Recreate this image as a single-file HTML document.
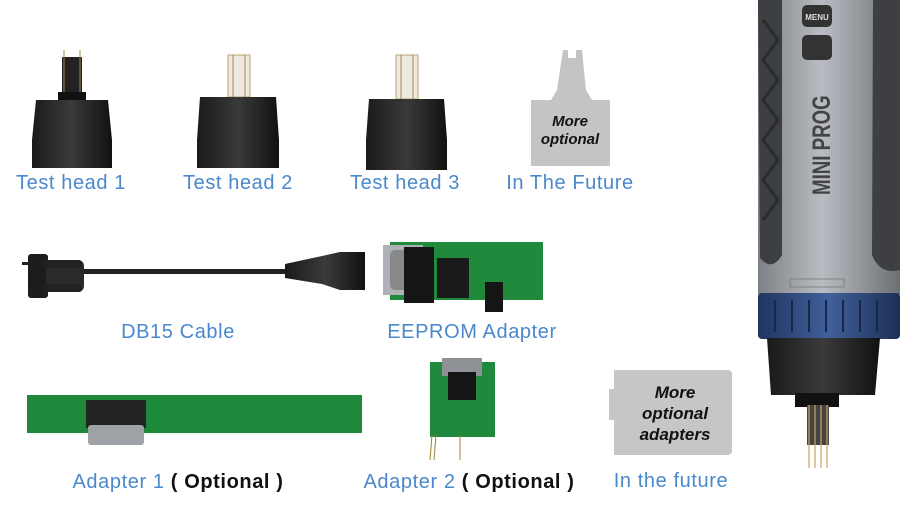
<!DOCTYPE html>
<html><head><meta charset="utf-8"><style>
html,body{margin:0;padding:0;background:#fff;width:900px;height:510px;overflow:hidden}
.l{position:absolute;font-family:"Liberation Sans",sans-serif;font-size:20px;letter-spacing:0.6px;color:#4a88cc;white-space:nowrap;transform:translateX(-50%)}
.k{color:#111;font-weight:bold}
svg{position:absolute;left:0;top:0}
</style></head><body>
<svg width="900" height="510" viewBox="0 0 900 510">
<defs>
<linearGradient id="bk" x1="0" x2="1"><stop offset="0" stop-color="#1a1a1a"/><stop offset=".5" stop-color="#3a3a3a"/><stop offset="1" stop-color="#111"/></linearGradient>
<linearGradient id="gr" x1="0" x2="1"><stop offset="0" stop-color="#7d8186"/><stop offset=".45" stop-color="#b9bdc2"/><stop offset="1" stop-color="#6c7075"/></linearGradient>
<linearGradient id="bl" x1="0" x2="1"><stop offset="0" stop-color="#1f3560"/><stop offset=".5" stop-color="#41609a"/><stop offset="1" stop-color="#1c2f55"/></linearGradient>
</defs>
<!-- test head 1 -->
<rect x="62" y="57" width="20" height="42" fill="#222"/>
<line x1="64" y1="50" x2="64" y2="99" stroke="#a0874a"/><line x1="80" y1="50" x2="80" y2="99" stroke="#a0874a"/>
<rect x="58" y="92" width="28" height="8" fill="#111"/>
<path d="M36 100 H108 L112 140 V168 H32 V140 Z" fill="url(#bk)"/>
<!-- test head 2 -->
<rect x="228" y="55" width="22" height="42" fill="#ece9e0" stroke="#b8a470"/>
<line x1="233" y1="55" x2="233" y2="97" stroke="#b08a4a"/><line x1="245" y1="55" x2="245" y2="97" stroke="#b08a4a"/>
<path d="M200 97 H276 L279 140 V168 H197 V140 Z" fill="url(#bk)"/>
<!-- test head 3 -->
<rect x="396" y="55" width="22" height="44" fill="#ece9e0" stroke="#b8a470"/>
<line x1="401" y1="55" x2="401" y2="99" stroke="#b08a4a"/><line x1="413" y1="55" x2="413" y2="99" stroke="#b08a4a"/>
<path d="M369 99 H444 L447 140 V170 H366 V140 Z" fill="url(#bk)"/>
<!-- future head -->
<path d="M563 50 H568 V58 H576 V50 H582 L586 90 L592 100 H610 V166 H531 V100 H551 L557 90 Z" fill="#c4c4c4"/>
<text x="570" y="126" font-family="Liberation Sans" font-weight="bold" font-style="italic" font-size="15" text-anchor="middle" fill="#111">More</text>
<text x="570" y="144" font-family="Liberation Sans" font-weight="bold" font-style="italic" font-size="15" text-anchor="middle" fill="#111">optional</text>
<!-- DB15 cable -->
<rect x="22" y="262" width="8" height="3" fill="#222"/>
<rect x="28" y="254" width="20" height="44" rx="3" fill="#1c1c1c"/>
<rect x="46" y="260" width="38" height="32" rx="6" fill="#2a2a2a"/>
<rect x="44" y="260" width="38" height="8" rx="3" fill="#222"/><rect x="44" y="284" width="38" height="8" rx="3" fill="#222"/>
<rect x="84" y="269" width="220" height="5" fill="#222"/>
<path d="M285 264 L322 256 L340 252 H365 V290 H340 L322 284 L285 278 Z" fill="url(#bk)"/>
<!-- EEPROM adapter -->
<rect x="390" y="242" width="153" height="58" fill="#1f8a3b"/>
<rect x="383" y="245" width="40" height="50" fill="#aeb2b6"/>
<rect x="390" y="250" width="24" height="40" rx="5" fill="#888"/>
<rect x="404" y="247" width="30" height="56" fill="#151515"/>
<rect x="437" y="258" width="32" height="40" fill="#1a1a1a"/>
<rect x="485" y="282" width="18" height="30" fill="#151515"/>
<!-- Adapter 1 -->
<rect x="27" y="395" width="335" height="38" fill="#1d8a3b"/>
<rect x="86" y="400" width="60" height="28" fill="#222"/>
<rect x="88" y="425" width="56" height="20" rx="3" fill="#9ea2a6"/>
<!-- Adapter 2 -->
<rect x="430" y="362" width="65" height="75" fill="#1f8a3b"/>
<rect x="442" y="358" width="40" height="18" fill="#8e9296"/>
<rect x="448" y="372" width="28" height="28" fill="#151515"/>
<line x1="432" y1="435" x2="430" y2="460" stroke="#a27c3a"/><line x1="436" y1="435" x2="434" y2="460" stroke="#a27c3a"/><line x1="460" y1="435" x2="460" y2="460" stroke="#a27c3a"/>
<!-- more adapters -->
<path d="M614 370 H728 a4 4 0 0 1 4 4 V451 a4 4 0 0 1 -4 4 H614 V420 H609 V389 H614 Z" fill="#c6c6c6"/>
<text x="675" y="398" font-family="Liberation Sans" font-weight="bold" font-style="italic" font-size="17" text-anchor="middle" fill="#111">More</text>
<text x="675" y="419" font-family="Liberation Sans" font-weight="bold" font-style="italic" font-size="17" text-anchor="middle" fill="#111">optional</text>
<text x="675" y="440" font-family="Liberation Sans" font-weight="bold" font-style="italic" font-size="17" text-anchor="middle" fill="#111">adapters</text>
<!-- pen -->
<rect x="758" y="0" width="142" height="295" fill="url(#gr)"/>
<path d="M758 0 H782 V255 Q772 272 760 258 Z" fill="#3d3f42"/>
<path d="M763 20 L778 40 L763 60 L778 80 L763 100 L778 120 L763 140 L778 160 L763 180 L778 200 L763 220" fill="none" stroke="#2a2b2d" stroke-width="3"/>
<path d="M873 0 H900 V270 Q880 275 872 255 Z" fill="#3d3f42"/>
<rect x="802" y="5" width="30" height="22" rx="5" fill="#333"/>
<text x="817" y="20" font-family="Liberation Sans" font-weight="bold" font-size="8" text-anchor="middle" fill="#ddd">MENU</text>
<rect x="802" y="35" width="30" height="25" rx="5" fill="#333"/>
<text x="0" y="0" transform="translate(830,195) rotate(-90) scale(0.85,1.15)" font-family="Liberation Sans" font-weight="bold" font-size="22" fill="#444">MINI PROG</text>
<rect x="790" y="279" width="54" height="8" fill="none" stroke="#777" stroke-width="0.8"/>
<rect x="758" y="293" width="142" height="46" rx="4" fill="url(#bl)"/>
<g stroke="#17294a" stroke-width="2"><line x1="775" y1="300" x2="775" y2="332"/><line x1="792" y1="300" x2="792" y2="332"/><line x1="809" y1="300" x2="809" y2="332"/><line x1="826" y1="300" x2="826" y2="332"/><line x1="843" y1="300" x2="843" y2="332"/><line x1="860" y1="300" x2="860" y2="332"/><line x1="877" y1="300" x2="877" y2="332"/></g>
<path d="M767 338 H880 L875 395 H771 Z" fill="url(#bk)"/>
<rect x="795" y="393" width="44" height="14" fill="#111"/>
<rect x="807" y="405" width="22" height="40" fill="#444"/>
<g stroke="#c9a55a" stroke-width="1.2"><line x1="809" y1="405" x2="809" y2="468"/><line x1="815" y1="405" x2="815" y2="468"/><line x1="821" y1="405" x2="821" y2="468"/><line x1="827" y1="405" x2="827" y2="468"/></g>
</svg>
<div class="l" style="left:71px;top:172px">Test head 1</div>
<div class="l" style="left:238px;top:172px">Test head 2</div>
<div class="l" style="left:405px;top:172px">Test head 3</div>
<div class="l" style="left:570px;top:172px">In The Future</div>
<div class="l" style="left:178px;top:321px">DB15 Cable</div>
<div class="l" style="left:472px;top:321px">EEPROM Adapter</div>
<div class="l" style="left:178px;top:471px">Adapter 1 <span class="k">( Optional )</span></div>
<div class="l" style="left:469px;top:471px">Adapter 2 <span class="k">( Optional )</span></div>
<div class="l" style="left:671px;top:470px">In the future</div>
</body></html>
